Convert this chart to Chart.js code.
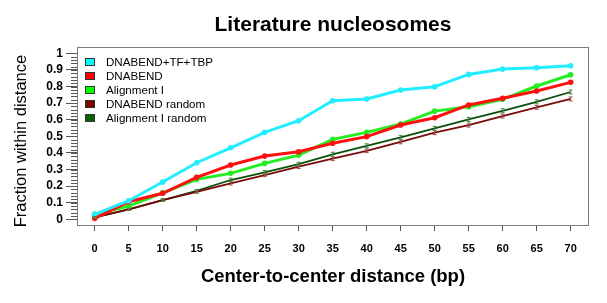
<!DOCTYPE html>
<html>
<head>
<meta charset="utf-8">
<script src="https://cdn.jsdelivr.net/npm/chart.js@4.4.0/dist/chart.umd.min.js"></script>
<style>
    body { margin: 0; background: #fff; }
    #wrap { width: 607px; height: 303px; }
</style>
</head>
<body>
<div id="wrap"><canvas id="chart" width="607" height="303"></canvas></div>
<script>
const FONT = '"Liberation Sans", Arial, sans-serif';

// data
const distances = [0, 5, 10, 15, 20, 25, 30, 35, 40, 45, 50, 55, 60, 65, 70];
const dnabendTfTbp = [0.03, 0.112, 0.225, 0.341, 0.431, 0.524, 0.594, 0.714, 0.725, 0.779, 0.799, 0.873, 0.905, 0.913, 0.925];
const dnabend = [0.006, 0.106, 0.157, 0.253, 0.327, 0.381, 0.407, 0.458, 0.498, 0.568, 0.612, 0.689, 0.729, 0.773, 0.825];
const alignment = [0.03, 0.08, 0.16, 0.241, 0.277, 0.337, 0.387, 0.482, 0.524, 0.574, 0.652, 0.678, 0.723, 0.803, 0.871];
const dnabendRandom = [0.012, 0.06, 0.116, 0.166, 0.217, 0.267, 0.317, 0.365, 0.413, 0.467, 0.522, 0.568, 0.622, 0.675, 0.725];
const alignmentRandom = [0.012, 0.06, 0.116, 0.172, 0.237, 0.283, 0.333, 0.392, 0.443, 0.494, 0.548, 0.602, 0.654, 0.708, 0.767];
const dnabendRandomErr = [0.004, 0.006, 0.008, 0.009, 0.01, 0.01, 0.011, 0.011, 0.011, 0.012, 0.012, 0.012, 0.012, 0.012, 0.012];
const alignmentRandomErr = [0.004, 0.006, 0.008, 0.009, 0.011, 0.011, 0.011, 0.012, 0.012, 0.012, 0.012, 0.012, 0.012, 0.012, 0.012];

const xTicks = distances;
const yTicks = [0, 0.1, 0.2, 0.3, 0.4, 0.5, 0.6, 0.7, 0.8, 0.9, 1];
const yMinorStep = 0.02;
const yTitle = 'Fraction within distance';

function toPoints(arr) {
    return arr.map((v, i) => ({ x: distances[i], y: v }));
}

// frame, minor ticks, error bars, legend and y title
const extras = {
    id: 'extras',
    beforeDatasetsDraw(chart) {
        const { ctx, chartArea: a, scales } = chart;
        ctx.save();
        ctx.strokeStyle = '#7a7a7a';
        ctx.lineWidth = 1;
        ctx.strokeRect(a.left + 0.5, a.top + 0.5, a.right - a.left - 1, a.bottom - a.top);
        // minor y ticks
        ctx.strokeStyle = '#555';
        ctx.beginPath();
        for (let v = 0; v <= 1.0001; v += yMinorStep) {
            const y = Math.round(scales.y.getPixelForValue(v)) + 0.5;
            ctx.moveTo(a.left - 6, y);
            ctx.lineTo(a.left, y);
        }
        ctx.stroke();

        // y title, a bit below the plot centre like the original
        ctx.translate(21, (a.top + a.bottom) / 2 + 5);
        ctx.rotate(-Math.PI / 2);
        ctx.font = '16.5px ' + FONT;
        ctx.fillStyle = '#000';
        ctx.textAlign = 'center';
        ctx.textBaseline = 'middle';
        ctx.fillText(yTitle, 0, 0);
        ctx.restore();
    },
    afterDatasetsDraw(chart) {
        const { ctx, scales } = chart;
        ctx.save();
        chart.data.datasets.forEach(ds => {
            if (!ds.errors) return;
            ctx.strokeStyle = ds.errColor;
            ctx.lineWidth = 1;
            ctx.beginPath();
            ds.data.forEach((p, i) => {
                const x = scales.x.getPixelForValue(p.x);
                const y1 = scales.y.getPixelForValue(p.y - ds.errors[i]);
                const y2 = scales.y.getPixelForValue(p.y + ds.errors[i]);
                ctx.moveTo(x, y1); ctx.lineTo(x, y2);
                ctx.moveTo(x - 2, y1); ctx.lineTo(x + 2, y1);
                ctx.moveTo(x - 2, y2); ctx.lineTo(x + 2, y2);
            });
            ctx.stroke();
        });
        // legend
        const a = chart.chartArea;
        ctx.font = '11.6px ' + FONT;
        ctx.textBaseline = 'middle';
        chart.data.datasets.forEach((ds, i) => {
            const cy = a.top + 15 + i * 14;
            ctx.fillStyle = ds.legendColor;
            ctx.fillRect(a.left + 8, cy - 4, 10, 8);
            ctx.strokeStyle = '#333';
            ctx.strokeRect(a.left + 8.5, cy - 3.5, 9, 7);
            ctx.fillStyle = '#000';
            ctx.fillText(ds.label, a.left + 29, cy + 0.5);
        });
        ctx.restore();
    }
};

new Chart(document.getElementById('chart'), {
    type: 'line',
    data: {
        datasets: [{
            label: 'DNABEND+TF+TBP',
            data: toPoints(dnabendTfTbp),
            borderColor: '#22eeff',
            backgroundColor: '#22eeff',
            legendColor: '#00ffff',
            borderWidth: 3,
            pointRadius: 2.8,
            pointBorderWidth: 0
        }, {
            label: 'DNABEND',
            data: toPoints(dnabend),
            borderColor: '#ff1010',
            backgroundColor: '#ff1010',
            legendColor: '#ff0000',
            borderWidth: 3,
            pointRadius: 2.8,
            pointBorderWidth: 0
        }, {
            label: 'Alignment I',
            data: toPoints(alignment),
            borderColor: '#22ee22',
            backgroundColor: '#22ee22',
            legendColor: '#00ff00',
            borderWidth: 3,
            pointRadius: 2.8,
            pointBorderWidth: 0
        }, {
            label: 'DNABEND random',
            data: toPoints(dnabendRandom),
            borderColor: '#7a0a0a',
            backgroundColor: '#7a0a0a',
            legendColor: '#800000',
            errColor: '#a05050',
            errors: dnabendRandomErr,
            borderWidth: 1.8,
            pointRadius: 0
        }, {
            label: 'Alignment I random',
            data: toPoints(alignmentRandom),
            borderColor: '#0a500a',
            backgroundColor: '#0a500a',
            legendColor: '#006400',
            errColor: '#4a8a4a',
            errors: alignmentRandomErr,
            borderWidth: 1.8,
            pointRadius: 0
        }]
    },
    options: {
        responsive: false,
        animation: false,
        layout: { padding: { left: 0, right: 18, top: 0, bottom: 0 } },
        plugins: {
            legend: { display: false },
            tooltip: { enabled: false },
            title: {
                display: true,
                text: 'Literature nucleosomes',
                fullSize: false,
                color: '#000',
                font: { family: FONT, size: 21, weight: 'bold' },
                padding: { top: 13, bottom: 8.8 }
            }
        },
        scales: {
            x: {
                type: 'linear',
                min: -2.6,
                max: 72.7,
                afterBuildTicks: s => { s.ticks = xTicks.map(v => ({ value: v })); },
                afterFit: s => { s.height = 78; },
                grid: { drawOnChartArea: false, tickLength: 6, tickColor: '#555' },
                border: { display: false },
                ticks: {
                    color: '#000',
                    padding: 11,
                    maxRotation: 0,
                    font: { family: FONT, size: 11, weight: 'bold' }
                },
                title: {
                    display: true,
                    text: 'Center-to-center distance (bp)',
                    color: '#000',
                    font: { family: FONT, size: 18.5, weight: 'bold' },
                    padding: { top: 0, bottom: 15 }
                }
            },
            y: {
                min: -0.034,
                max: 1.038,
                afterBuildTicks: s => { s.ticks = yTicks.map(v => ({ value: v })); },
                afterFit: s => { s.width = 77; },
                grid: { drawOnChartArea: false, tickLength: 11, tickColor: '#555' },
                border: { display: false },
                ticks: {
                    color: '#000',
                    padding: 3,
                    font: { family: FONT, size: 12, weight: 'bold' },
                    callback: v => String(Math.round(v * 10) / 10)
                }
            }
        }
    },
    plugins: [extras]
});
</script>
</body>
</html>
